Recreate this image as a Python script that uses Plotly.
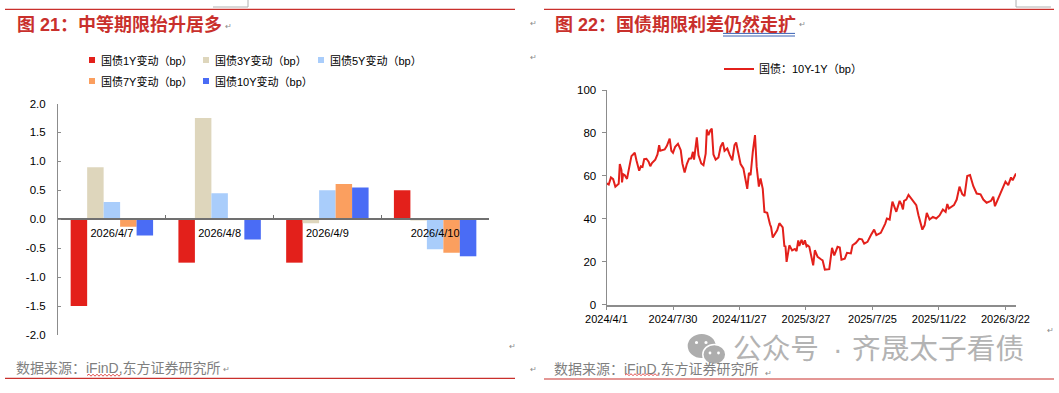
import pandas as pd
import plotly.graph_objects as go

W, H = 1059, 393

# ---------- data ----------
bar_dates = ["2026/4/7", "2026/4/8", "2026/4/9", "2026/4/10"]
bond_1y = [-1.5, -0.75, -0.75, 0.5]
bond_3y = [0.9, 1.75, -0.07, -0.02]
bond_5y = [0.3, 0.45, 0.5, -0.52]
bond_7y = [-0.13, 0.0, 0.61, -0.58]
bond_10y = [-0.28, -0.35, 0.55, -0.64]
bar_names = ["国债1Y变动（bp）", "国债3Y变动（bp）", "国债5Y变动（bp）", "国债7Y变动（bp）", "国债10Y变动（bp）"]
bar_colors = ["#e3201b", "#ded6bc", "#a9cdfb", "#fb9f5f", "#4a6cf5"]

spread_days = [0, 4, 8, 12, 16, 18, 22, 24, 27, 28, 30, 33, 37, 40, 45, 48, 51, 54, 59, 62, 65, 68, 72, 76, 79, 82, 85, 88,
               92, 95, 97, 101, 105, 109, 114, 117, 120, 124, 129, 134, 137, 141, 145, 149, 153, 156, 158, 163, 166, 171,
               175, 179, 181, 184, 187, 190, 193, 197, 202, 206, 210, 213, 218, 222, 227, 231, 234, 237, 242, 247, 250,
               254, 257, 260, 264, 268, 271, 275, 278, 282, 285, 290, 295, 297, 300, 303, 308, 312, 318, 321, 323, 325,
               330, 335, 340, 343, 346, 348, 352, 355, 358, 361, 363, 366, 369, 373, 376, 381, 387, 390, 394, 402, 407,
               411, 417, 421, 424, 430, 434, 441, 444, 450, 456, 461, 465, 471, 477, 483, 487, 495, 503, 506, 511, 516,
               523, 529, 532, 535, 537, 541, 545, 550, 559, 563, 567, 570, 574, 578, 583, 589, 595, 601, 607, 612, 615,
               618, 627, 632, 637, 642, 646, 651, 656, 659, 662, 668, 675, 680, 686, 694, 698, 701, 707, 713, 720, 725,
               730, 733, 736, 739]
spread_bp = [56.5, 56, 59.3, 58.5, 55, 55.5, 56.3, 65.5, 62.7, 57, 60.8, 60.3, 58.6, 62.7, 69.2, 70, 70.8, 67.3, 62.4, 64.5,
             64.2, 67.8, 68, 66.6, 64.5, 66, 66.6, 67.6, 70, 74.3, 71.7, 72, 72.3, 74, 77.4, 71.7, 70.8, 73.6, 75, 72, 65.8,
             61.6, 65.5, 68, 68.2, 71.2, 67.6, 78, 69.7, 65.8, 65, 70.4, 81.6, 79, 81, 82, 70, 67.6, 68.6, 73.6, 75.6, 71.7,
             72.8, 70, 67.3, 74.3, 75.6, 71.7, 65.5, 63.5, 58.8, 54, 61.4, 60.3, 71.2, 79, 64.2, 55, 58.8, 54, 43.2, 42.8,
             37.5, 36.2, 31.3, 32.8, 34.7, 38, 36, 27.4, 27.2, 20, 27.7, 25.3, 26, 25, 30, 27.4, 30.3, 28, 30, 27.2, 27.7, 27,
             23, 18.4, 25.4, 22.3, 21.2, 20.7, 16.4, 16.6, 26.5, 23, 27, 26.7, 21, 21.5, 24.2, 23.9, 27.7, 28.8, 30.7, 30.5,
             28.5, 29.3, 32.4, 35, 32.4, 33.5, 37.8, 40.2, 39.7, 48, 43.3, 48.4, 46.9, 44.4, 48.4, 49, 51.2, 49.5, 46.4, 41.7,
             37, 35, 37, 42.8, 39.7, 40.9, 40.2, 41.6, 44.4, 43.3, 46.9, 44.8, 46.4, 49, 55, 51.5, 50.6, 60, 60.4, 58, 55.2,
             51.8, 51.4, 49, 47.5, 48.4, 50.3, 45.9, 49.5, 53.7, 57.3, 55.7, 59.3, 58, 59.6, 61.1]
spread_name = "国债：10Y-1Y（bp）"
date_ticks = ["2024-04-01", "2024-07-30", "2024-11-27", "2025-03-27", "2025-07-25", "2025-11-22", "2026-03-22"]
date_labels = ["2024/4/1", "2024/7/30", "2024/11/27", "2025/3/27", "2025/7/25", "2025/11/22", "2026/3/22"]
spread_dates = [(pd.Timestamp("2024-04-01") + pd.Timedelta(days=d)).strftime("%Y-%m-%d") for d in spread_days]

# ---------- helpers ----------
FONT = "Liberation Sans, Noto Sans CJK SC, sans-serif"
RED = "#c9302c"
AXIS = "#8c8c8c"
px = lambda x: x / W
py = lambda y: 1 - y / H
shapes, notes = [], []

def line(x0, y0, x1, y1, color, width=1):
    shapes.append(dict(type="line", xref="paper", yref="paper", x0=px(x0), x1=px(x1), y0=py(y0), y1=py(y1),
                       line=dict(color=color, width=width), layer="above"))

def rect(x0, y0, x1, y1, color):
    shapes.append(dict(type="rect", xref="paper", yref="paper", x0=px(x0), x1=px(x1), y0=py(y0), y1=py(y1),
                       fillcolor=color, line=dict(width=0)))

def oval(cx, cy, rx, ry, color, border=None):
    shapes.append(dict(type="circle", xref="paper", yref="paper", x0=px(cx - rx), x1=px(cx + rx), y0=py(cy + ry), y1=py(cy - ry),
                       fillcolor=color, line=dict(width=1.5 if border else 0, color=border or color)))

def text(x, y, s, size, color="#000000", anchor="left"):
    notes.append(dict(xref="paper", yref="paper", x=px(x), y=py(y), text=s, showarrow=False, xanchor=anchor, yanchor="middle",
                      font=dict(family=FONT, size=size, color=color), borderpad=0, borderwidth=0))

def squiggle(x0, x1, y):
    pts, x, up = [f"M{px(x0)},{py(y)}"], x0, True
    while x < x1:
        x += 2
        pts.append(f"L{px(x)},{py(y - 1.3 if up else y + 0.7)}")
        up = not up
    shapes.append(dict(type="path", xref="paper", yref="paper", path=" ".join(pts), line=dict(color="#e04a4a", width=1)))

# ---------- figure ----------
fig = go.Figure()
for name, vals, col in zip(bar_names, [bond_1y, bond_3y, bond_5y, bond_7y, bond_10y], bar_colors):
    fig.add_trace(go.Bar(x=bar_dates, y=vals, name=name, marker=dict(color=col, line=dict(width=0)),
                         xaxis="x", yaxis="y", showlegend=False))
fig.add_trace(go.Scatter(x=spread_dates, y=spread_bp, name=spread_name, mode="lines", xaxis="x2", yaxis="y2",
                         line=dict(color="#e3201b", width=2), legend="legend"))

tick_font = dict(family=FONT, size=11.5, color="#000000")
fig.update_layout(
    width=W, height=H, margin=dict(l=0, r=0, t=0, b=0, autoexpand=False), paper_bgcolor="#ffffff", plot_bgcolor="#ffffff",
    barmode="group", bargap=0.235, bargroupgap=0, font=dict(family=FONT), shapes=shapes, annotations=notes,
    showlegend=True,
    legend=dict(x=px(719), y=py(69), xanchor="left", yanchor="middle", orientation="h", bgcolor="rgba(0,0,0,0)",
                font=dict(family=FONT, size=11, color="#000000")),
    xaxis=dict(domain=[px(58), px(489)], anchor="free", position=py(219.3), type="category", showgrid=False,
               showline=True, linecolor="#707070", linewidth=1.5, ticks="inside", ticklen=4, tickcolor="#707070",
               tickson="boundaries", tickfont=dict(family=FONT, size=11, color="#000000"), zeroline=False, ticklabelstandoff=4),
    yaxis=dict(domain=[py(335), py(103.5)], range=[-2, 2], tickvals=[-2, -1.5, -1, -0.5, 0, 0.5, 1, 1.5, 2],
               ticktext=["-2.0", "-1.5", "-1.0", "-0.5", "0.0", "0.5", "1.0", "1.5", "2.0"], showgrid=False, zeroline=False,
               showline=True, linecolor=AXIS, linewidth=1, ticks="inside", ticklen=3, tickcolor=AXIS, tickfont=tick_font,
               anchor="x", ticklabelstandoff=9),
    xaxis2=dict(domain=[px(606.5), px(1016)], anchor="y2", type="date",
                range=["2024-04-01", (pd.Timestamp("2024-04-01") + pd.Timedelta(days=739)).strftime("%Y-%m-%d")],
                tickvals=date_ticks, ticktext=date_labels, showgrid=False, showline=True, linecolor=AXIS, linewidth=1.5,
                ticks="outside", ticklen=3, tickcolor=AXIS, tickangle=0, tickfont=dict(family=FONT, size=11, color="#000000"), zeroline=False),
    yaxis2=dict(domain=[py(304.8), py(90)], anchor="x2", range=[0, 100], tickvals=[0, 20, 40, 60, 80, 100], showgrid=False,
                zeroline=False, showline=True, linecolor=AXIS, linewidth=1, ticks="outside", ticklen=4, tickcolor=AXIS, tickfont=tick_font,
                ticklabelstandoff=3),
)

# page furniture
line(5, 9.4, 515, 9.4, RED, 1.2); line(544, 9.4, 1054, 9.4, RED, 1.2)
line(5, 378.4, 515, 378.4, RED, 1.2); line(544, 379, 1054, 379, RED, 1.2)
line(213, 7, 248, 7, "#b0b0b0"); line(248, 0, 248, 7, "#b0b0b0")
line(1016, 7, 1051, 7, "#b0b0b0"); line(1016, 0, 1016, 7, "#b0b0b0")
line(723, 33.4, 795, 33.4, "#3a62b5"); line(723, 36, 795, 36, "#3a62b5")
squiggle(87, 120, 375.5); squiggle(625, 658, 375)

# hand-placed legend for the bar chart
leg_pos = [(92, 60), (206, 60), (321, 60), (92, 81), (206, 81)]
for (lx, ly), name, col in zip(leg_pos, bar_names, bar_colors):
    rect(lx - 3, ly - 3, lx + 3, ly + 3, col)
    text(lx + 8.5, ly, name, 11)

text(17, 25, "<b>图 21：中等期限抬升居多</b>", 18, RED)
text(555, 25, "<b>图 22：国债期限利差仍然走扩</b>", 18, RED)
text(16, 368, "数据来源：iFinD,东方证券研究所", 14, "#7f7f7f")
text(554, 368.5, "数据来源：iFinD,东方证券研究所", 14, "#7f7f7f")
for ax, ay in [(228, 26), (226.5, 369), (512, 346), (802, 25), (533, 23), (533, 57), (1050, 330), (533, 369), (768, 373)]:
    text(ax, ay, "↵", 8, "#8a8a8a", "center")

# watermark
oval(701.7, 346, 14, 12, "#adadad")
oval(714.3, 354.5, 11.5, 10, "#adadad", "#ffffff")
for ex, ey, er in [(696.5, 342.5, 1.6), (706, 342.5, 1.6), (710, 353, 1.4), (718.5, 353, 1.4)]:
    oval(ex, ey, er, er, "#ffffff")
fig.layout.shapes = shapes
text(733, 349, "公众号", 28.7, "#b3b3b3")
text(838, 349, "·", 28.7, "#b3b3b3", "center")
text(852, 349, "齐晟太子看债", 28.7, "#b3b3b3")
fig.layout.annotations = notes

fig.write_html("out.html", config=dict(displayModeBar=False), post_script="document.body.style.margin='0';")
